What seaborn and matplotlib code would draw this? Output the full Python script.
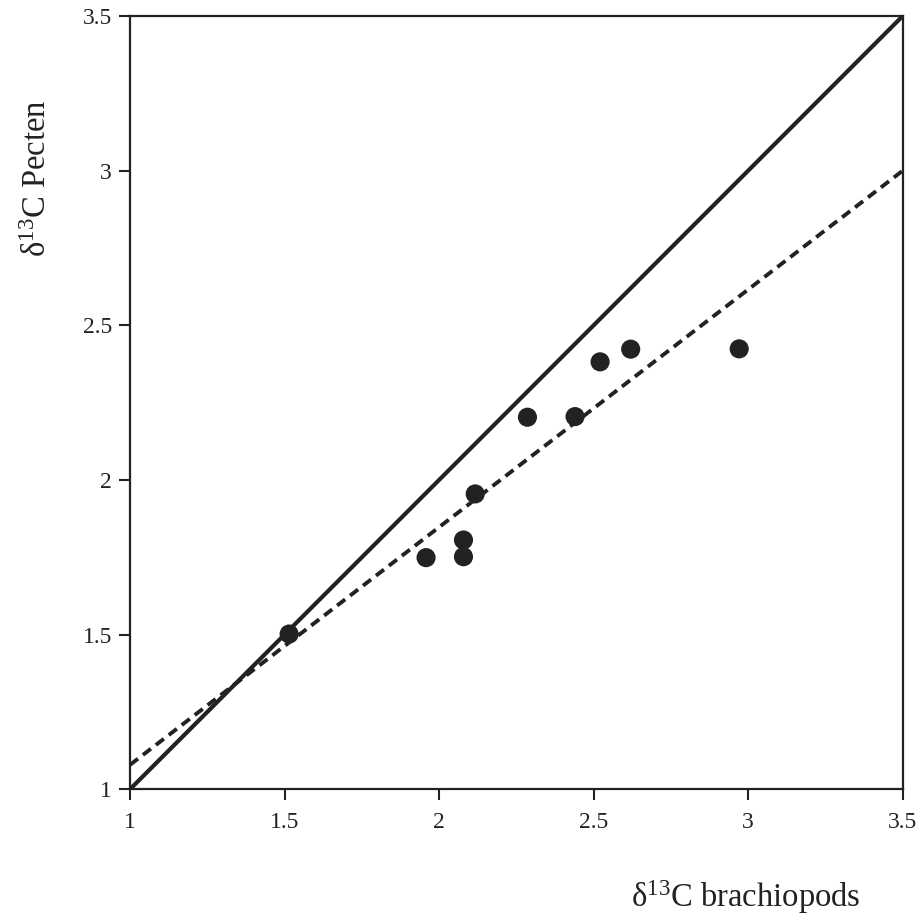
import matplotlib
matplotlib.use("Agg")
import matplotlib.pyplot as plt
import seaborn as sns
import pandas as pd

# Data
brachiopods = [1.515, 1.958, 2.079, 2.079, 2.117, 2.286, 2.440, 2.521, 2.620, 2.971]
pecten = [1.502, 1.749, 1.806, 1.752, 1.955, 2.203, 2.205, 2.382, 2.423, 2.424]

# 1:1 line and regression (dashed) line endpoints
line_x = [1.0, 3.5]
one_to_one_y = [1.0, 3.5]
fit_y = [1.079, 3.0]

ticks = [1, 1.5, 2, 2.5, 3, 3.5]
tick_labels = ["1", "1.5", "2", "2.5", "3", "3.5"]

sns.set_style("white")
plt.rcParams['font.family'] = ['Liberation Serif', 'DejaVu Serif']
plt.rcParams['mathtext.fontset'] = 'custom'
plt.rcParams['mathtext.rm'] = 'Liberation Serif'
plt.rcParams['mathtext.it'] = 'Liberation Serif:italic'

fig = plt.figure(figsize=(9.23, 9.16), dpi=100)
ax = fig.add_axes([0.1408, 0.1383, 0.8372, 0.8442])

df_pts = pd.DataFrame({"x": brachiopods, "y": pecten})
df_line = pd.DataFrame({"x": line_x, "y": one_to_one_y})
df_fit = pd.DataFrame({"x": line_x, "y": fit_y})

sns.lineplot(data=df_line, x="x", y="y", ax=ax, color="#222222", linewidth=3.0)
sns.lineplot(data=df_fit, x="x", y="y", ax=ax, color="#222222", linewidth=2.8,
             linestyle=(0, (2.6, 1.6)))
sns.scatterplot(data=df_pts, x="x", y="y", ax=ax, color="#222222", s=190,
                edgecolor="none", zorder=5)

ax.set_xlim(1, 3.5)
ax.set_ylim(1, 3.5)
ax.set_xticks(ticks)
ax.set_xticklabels(tick_labels)
ax.set_yticks(ticks)
ax.set_yticklabels(tick_labels)
ax.tick_params(axis='both', direction='out', length=8, width=1.5, labelsize=17,
               color="#222222", labelcolor="#222222", bottom=True, left=True)
ax.tick_params(axis='x', pad=8)
ax.tick_params(axis='y', pad=5)
for sp in ax.spines.values():
    sp.set_visible(True)
    sp.set_linewidth(1.6)
    sp.set_color("#222222")

ax.set_xlabel("")
ax.set_ylabel("")
ax.text(0.797, -0.139, r"δ$^{13}$C brachiopods", transform=ax.transAxes,
        ha="center", va="center", fontsize=23.5, color="#222222")
ax.text(-0.119, 0.790, r"δ$^{13}$C Pecten", transform=ax.transAxes,
        ha="center", va="center", fontsize=23.5, rotation=90, color="#222222")

fig.savefig("out.png", dpi=100)
